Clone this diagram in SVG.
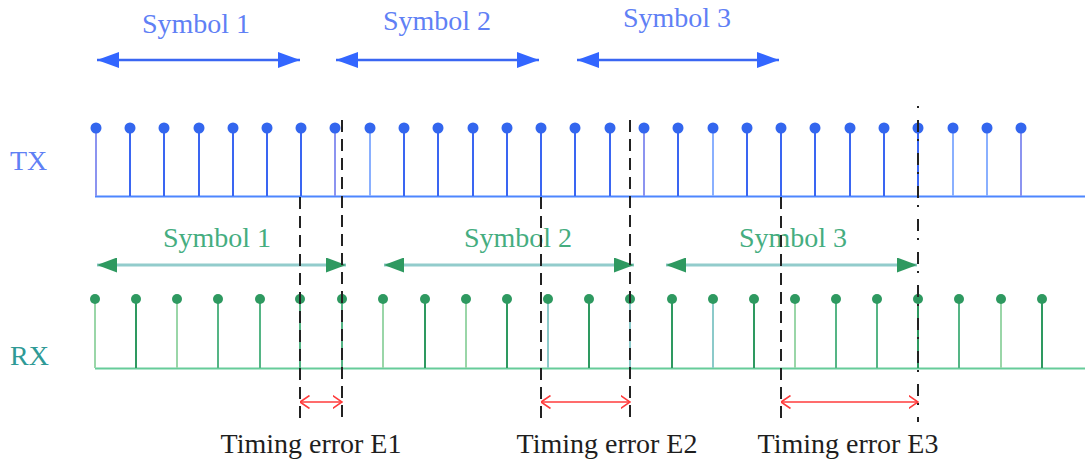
<svg xmlns="http://www.w3.org/2000/svg" width="1085" height="464" viewBox="0 0 1085 464">
<style>
text{font-family:"Liberation Serif","Times New Roman",serif;font-size:28px}
.tb{fill:#5f80f5}
.tg{fill:#45ad7f}
.tk{fill:#1e1e1e}
.base-tx{stroke:#4d86ff;stroke-width:2;fill:none}
.base-rx{stroke:#66cc99;stroke-width:2;fill:none}
.st{stroke:#3a66f2;stroke-width:2}
.stl{stroke:#8ab0ff;stroke-width:2}
.stv{stroke:#8c94f0;stroke-width:2}
.dt{fill:#3366ee}
.sg{stroke:#2e9960;stroke-width:2}
.sgl{stroke:#9ad6a8;stroke-width:2}
.sgm{stroke:#55b585;stroke-width:2}
.sgt{stroke:#8ccaca;stroke-width:2}
.dg{fill:#2e9960}
.ab{stroke:#3a66f2;stroke-width:2.5;fill:none}
.ag{stroke:#92cccc;stroke-width:3;fill:none}
.ar{stroke:#ff3b3b;stroke-width:1.6;fill:none}
.dash{stroke:#222;stroke-width:2;stroke-dasharray:12 7;fill:none}
</style>
<defs>
<marker id="hb" viewBox="0 0 22 16" refX="22" refY="8" markerWidth="22" markerHeight="16" markerUnits="userSpaceOnUse" orient="auto-start-reverse"><path d="M0,0 L22,8 L0,16 Z" fill="#3366ff"/></marker>
<marker id="hg" viewBox="0 0 20 15" refX="20" refY="7.5" markerWidth="20" markerHeight="15" markerUnits="userSpaceOnUse" orient="auto-start-reverse"><path d="M0,0 L20,7.5 L0,15 Z" fill="#2e9960"/></marker>
<marker id="hr" viewBox="0 0 10 14" refX="9.5" refY="7" markerWidth="10" markerHeight="14" markerUnits="userSpaceOnUse" orient="auto-start-reverse"><path d="M0,0.5 L9.5,7 L0,13.5" fill="none" stroke="#ff3b3b" stroke-width="1.6"/></marker>
</defs>

<g id="labels-top">
<text class="tb" x="196" y="33" text-anchor="middle">Symbol 1</text>
<text class="tb" x="437" y="30" text-anchor="middle">Symbol 2</text>
<text class="tb" x="677" y="27" text-anchor="middle">Symbol 3</text>
</g>

<g id="tx-label"><text class="tb" x="10" y="170">TX</text></g>
<g id="rx-label"><text x="10" y="365" style="fill:#2f9a96">RX</text></g>

<g id="tx-signal">
<line class="base-tx" x1="95" y1="196.5" x2="1085" y2="196.5"/>
<line class="stv" x1="96" y1="128" x2="96" y2="196"/>
<line class="st" x1="130" y1="128" x2="130" y2="196"/>
<line class="st" x1="164" y1="128" x2="164" y2="196"/>
<line class="st" x1="199" y1="128" x2="199" y2="196"/>
<line class="st" x1="233" y1="128" x2="233" y2="196"/>
<line class="st" x1="267" y1="128" x2="267" y2="196"/>
<line class="st" x1="301" y1="128" x2="301" y2="196"/>
<line class="stv" x1="335" y1="128" x2="335" y2="196"/>
<line class="stl" x1="370" y1="128" x2="370" y2="196"/>
<line class="st" x1="404" y1="128" x2="404" y2="196"/>
<line class="st" x1="438" y1="128" x2="438" y2="196"/>
<line class="st" x1="473" y1="128" x2="473" y2="196"/>
<line class="st" x1="507" y1="128" x2="507" y2="196"/>
<line class="st" x1="541" y1="128" x2="541" y2="196"/>
<line class="st" x1="575" y1="128" x2="575" y2="196"/>
<line class="st" x1="610" y1="128" x2="610" y2="196"/>
<line class="stv" x1="644" y1="128" x2="644" y2="196"/>
<line class="st" x1="678" y1="128" x2="678" y2="196"/>
<line class="stl" x1="713" y1="128" x2="713" y2="196"/>
<line class="st" x1="747" y1="128" x2="747" y2="196"/>
<line class="st" x1="781" y1="128" x2="781" y2="196"/>
<line class="st" x1="815" y1="128" x2="815" y2="196"/>
<line class="st" x1="850" y1="128" x2="850" y2="196"/>
<line class="st" x1="884" y1="128" x2="884" y2="196"/>
<line class="st" x1="918" y1="128" x2="918" y2="196"/>
<line class="stl" x1="953" y1="128" x2="953" y2="196"/>
<line class="stl" x1="987" y1="128" x2="987" y2="196"/>
<line class="stv" x1="1021" y1="128" x2="1021" y2="196"/>
<g class="dt">
<circle cx="96" cy="128" r="5.5"/><circle cx="130" cy="128" r="5.5"/><circle cx="164" cy="128" r="5.5"/><circle cx="199" cy="128" r="5.5"/>
<circle cx="233" cy="128" r="5.5"/><circle cx="267" cy="128" r="5.5"/><circle cx="301" cy="128" r="5.5"/><circle cx="335" cy="128" r="5.5"/>
<circle cx="370" cy="128" r="5.5"/><circle cx="404" cy="128" r="5.5"/><circle cx="438" cy="128" r="5.5"/><circle cx="473" cy="128" r="5.5"/>
<circle cx="507" cy="128" r="5.5"/><circle cx="541" cy="128" r="5.5"/><circle cx="575" cy="128" r="5.5"/><circle cx="610" cy="128" r="5.5"/>
<circle cx="644" cy="128" r="5.5"/><circle cx="678" cy="128" r="5.5"/><circle cx="713" cy="128" r="5.5"/><circle cx="747" cy="128" r="5.5"/>
<circle cx="781" cy="128" r="5.5"/><circle cx="815" cy="128" r="5.5"/><circle cx="850" cy="128" r="5.5"/><circle cx="884" cy="128" r="5.5"/>
<circle cx="918" cy="128" r="5.5"/><circle cx="953" cy="128" r="5.5"/><circle cx="987" cy="128" r="5.5"/><circle cx="1021" cy="128" r="5.5"/>
</g>
</g>

<g id="labels-rx">
<text class="tg" x="217" y="247" text-anchor="middle">Symbol 1</text>
<text class="tg" x="518" y="247" text-anchor="middle">Symbol 2</text>
<text class="tg" x="793" y="247" text-anchor="middle">Symbol 3</text>
</g>

<g id="rx-signal">
<line class="base-rx" x1="95" y1="368.5" x2="1085" y2="368.5"/>
<line class="sgl" x1="95" y1="299" x2="95" y2="368"/>
<line class="sg" x1="136" y1="299" x2="136" y2="368"/>
<line class="sgl" x1="177" y1="299" x2="177" y2="368"/>
<line class="sgm" x1="218" y1="299" x2="218" y2="368"/>
<line class="sgm" x1="260" y1="299" x2="260" y2="368"/>
<line class="sgm" x1="300" y1="299" x2="300" y2="368"/>
<line class="sgm" x1="342" y1="299" x2="342" y2="368"/>
<line class="sgl" x1="383" y1="299" x2="383" y2="368"/>
<line class="sg" x1="425" y1="299" x2="425" y2="368"/>
<line class="sgl" x1="466" y1="299" x2="466" y2="368"/>
<line class="sg" x1="507" y1="299" x2="507" y2="368"/>
<line class="sgt" x1="548" y1="299" x2="548" y2="368"/>
<line class="sg" x1="589" y1="299" x2="589" y2="368"/>
<line class="sgt" x1="630" y1="299" x2="630" y2="368"/>
<line class="sg" x1="672" y1="299" x2="672" y2="368"/>
<line class="sgt" x1="713" y1="299" x2="713" y2="368"/>
<line class="sg" x1="754" y1="299" x2="754" y2="368"/>
<line class="sgl" x1="795" y1="299" x2="795" y2="368"/>
<line class="sgm" x1="836" y1="299" x2="836" y2="368"/>
<line class="sgm" x1="877" y1="299" x2="877" y2="368"/>
<line class="sg" x1="918" y1="299" x2="918" y2="368"/>
<line class="sgm" x1="959" y1="299" x2="959" y2="368"/>
<line class="sgl" x1="1001" y1="299" x2="1001" y2="368"/>
<line class="sg" x1="1042" y1="299" x2="1042" y2="368"/>
<g class="dg">
<circle cx="95" cy="299" r="5"/><circle cx="136" cy="299" r="5"/><circle cx="177" cy="299" r="5"/><circle cx="218" cy="299" r="5"/>
<circle cx="260" cy="299" r="5"/><circle cx="300" cy="299" r="5"/><circle cx="342" cy="299" r="5"/><circle cx="383" cy="299" r="5"/>
<circle cx="425" cy="299" r="5"/><circle cx="466" cy="299" r="5"/><circle cx="507" cy="299" r="5"/><circle cx="548" cy="299" r="5"/>
<circle cx="589" cy="299" r="5"/><circle cx="630" cy="299" r="5"/><circle cx="672" cy="299" r="5"/><circle cx="713" cy="299" r="5"/>
<circle cx="754" cy="299" r="5"/><circle cx="795" cy="299" r="5"/><circle cx="836" cy="299" r="5"/><circle cx="877" cy="299" r="5"/>
<circle cx="918" cy="299" r="5"/><circle cx="959" cy="299" r="5"/><circle cx="1001" cy="299" r="5"/><circle cx="1042" cy="299" r="5"/>
</g>
</g>

<g id="connectors">
<line class="ab" x1="97" y1="60" x2="300" y2="60" marker-start="url(#hb)" marker-end="url(#hb)"/>
<line class="ab" x1="336" y1="60" x2="539" y2="60" marker-start="url(#hb)" marker-end="url(#hb)"/>
<line class="ab" x1="577" y1="60" x2="779" y2="60" marker-start="url(#hb)" marker-end="url(#hb)"/>
<line class="ag" x1="97" y1="265" x2="346" y2="265" marker-start="url(#hg)" marker-end="url(#hg)"/>
<line class="ag" x1="384" y1="265" x2="634" y2="265" marker-start="url(#hg)" marker-end="url(#hg)"/>
<line class="ag" x1="666" y1="265" x2="917" y2="265" marker-start="url(#hg)" marker-end="url(#hg)"/>
<line class="dash" x1="300" y1="197" x2="300" y2="422"/>
<line class="dash" x1="342" y1="120" x2="342" y2="422"/>
<line class="dash" x1="541" y1="197" x2="541" y2="422"/>
<line class="dash" x1="630" y1="120" x2="630" y2="422"/>
<line class="dash" x1="781" y1="197" x2="781" y2="422"/>
<line class="dash" x1="918" y1="106" x2="918" y2="422" style="stroke-dasharray:2 12 12 7"/>
<line class="ar" x1="300" y1="402" x2="342" y2="402" marker-start="url(#hr)" marker-end="url(#hr)"/>
<line class="ar" x1="541" y1="402" x2="630" y2="402" marker-start="url(#hr)" marker-end="url(#hr)"/>
<line class="ar" x1="781" y1="402" x2="918" y2="402" marker-start="url(#hr)" marker-end="url(#hr)"/>
</g>

<g id="error-labels">
<text class="tk" x="311" y="453" text-anchor="middle">Timing error E1</text>
<text class="tk" x="607" y="453" text-anchor="middle">Timing error E2</text>
<text class="tk" x="848" y="453" text-anchor="middle">Timing error E3</text>
</g>
</svg>
